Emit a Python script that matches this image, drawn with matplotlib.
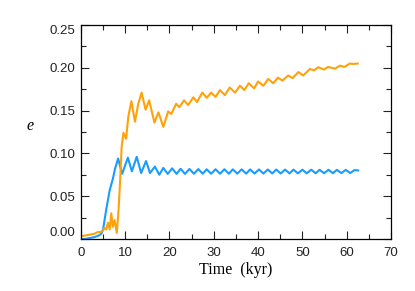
import numpy as np
import matplotlib.pyplot as plt
from matplotlib.ticker import MultipleLocator

# blue curve
t_blue = [0, 1, 2, 3, 4, 4.6, 5.0, 5.7, 6.5, 7.2, 7.7, 8.4, 9.3, 10.6, 11.5,
          12.6, 13.6, 14.7, 15.6, 16.7, 17.7, 18.6, 19.6, 20.6, 21.6, 22.5,
          23.5, 24.5, 25.5, 26.5, 27.5, 28.4, 29.4, 30.4, 31.4, 32.4, 33.4,
          34.3, 35.3, 36.3, 37.3, 38.2, 39.2, 40.2, 41.2, 42.2, 43.2, 44.1,
          45.1, 46.1, 47.1, 48.0, 49.0, 50.0, 51.0, 52.0, 53.0, 53.9, 54.9,
          55.9, 56.9, 57.8, 58.8, 59.8, 60.8, 61.8, 62.6]
e_blue = [0.000, 0.000, 0.001, 0.002, 0.004, 0.006, 0.011, 0.034, 0.057, 0.070,
          0.082, 0.094, 0.076, 0.095, 0.079, 0.096, 0.077, 0.091, 0.077, 0.0845,
          0.075, 0.083, 0.076, 0.0825, 0.076, 0.082, 0.076, 0.0818, 0.0762, 0.0816,
          0.0762, 0.0814, 0.0762, 0.0814, 0.0762, 0.0814, 0.0762, 0.0813, 0.0763,
          0.0813, 0.0763, 0.0812, 0.0764, 0.0812, 0.0764, 0.0811, 0.0765, 0.0811,
          0.0765, 0.0810, 0.0766, 0.0810, 0.0766, 0.0809, 0.0767, 0.0809, 0.0767,
          0.0808, 0.0768, 0.0808, 0.0768, 0.0807, 0.0769, 0.0807, 0.0770, 0.0805,
          0.0800]

# orange curve
t_orange = [0, 1, 2, 3, 3.8, 4.5, 5.0, 5.3, 5.7, 6.1, 6.5, 6.85, 7.2, 7.6, 8.1,
            8.5, 8.9, 9.2, 9.6, 10.2, 10.7, 11.4, 12.2, 12.95, 13.7, 14.6, 15.4,
            16.6, 17.5, 18.6, 19.7, 20.4, 21.5, 22.2, 23.3, 24.2, 25.4, 26.2,
            27.4, 28.4, 29.4, 30.4, 31.4, 32.5, 33.6, 34.8, 35.9, 36.9, 37.9,
            39.1, 40.0, 41.2, 42.3, 43.4, 44.5, 45.5, 46.8, 47.8, 49.1, 50.2,
            51.7, 52.6, 53.6, 54.9, 55.8, 57.4, 58.5, 59.5, 60.7, 61.5, 62.5]
e_orange = [0.003, 0.004, 0.005, 0.006, 0.008, 0.008, 0.010, 0.013, 0.011, 0.019,
            0.011, 0.030, 0.014, 0.022, 0.007, 0.034, 0.073, 0.108, 0.124, 0.117,
            0.143, 0.161, 0.137, 0.158, 0.171, 0.151, 0.162, 0.136, 0.148, 0.131,
            0.149, 0.146, 0.158, 0.154, 0.162, 0.1565, 0.1655, 0.160, 0.171, 0.165,
            0.171, 0.166, 0.174, 0.168, 0.177, 0.171, 0.179, 0.174, 0.182, 0.176,
            0.184, 0.179, 0.187, 0.182, 0.1885, 0.185, 0.191, 0.188, 0.195, 0.191,
            0.1986, 0.197, 0.2006, 0.198, 0.201, 0.199, 0.2025, 0.201, 0.205,
            0.2045, 0.205]

x_ticks = [0, 10, 20, 30, 40, 50, 60, 70]
y_ticks = [0.00, 0.05, 0.10, 0.15, 0.20, 0.25]

fig = plt.figure(figsize=(4.15, 2.91), dpi=100)
ax = fig.add_axes([0.195, 0.179, 0.747, 0.735])

ax.plot(t_blue, e_blue, color='#1a9cff', lw=1.5, solid_joinstyle='round')
ax.plot(t_orange, e_orange, color='#ffa20a', lw=1.5, solid_joinstyle='round')

ax.set_xlim(0, 70)
ax.set_ylim(0, 0.25)
ax.set_xticks(x_ticks)
ax.set_yticks(y_ticks)
ax.set_xticklabels([str(v) for v in x_ticks], family='Liberation Sans', fontsize=9.5)
ax.set_yticklabels(['%.2f' % v for v in y_ticks], family='Liberation Sans', fontsize=9.5)
ax.xaxis.set_minor_locator(MultipleLocator(5))
ax.yaxis.set_minor_locator(MultipleLocator(0.025))
ax.tick_params(which='both', direction='in', top=True, right=True, width=0.8, color='#222222', labelcolor='#222222')
ax.tick_params(which='major', length=6)
ax.tick_params(which='minor', length=3.5)
ax.tick_params(axis='x', pad=6)
ax.tick_params(axis='y', pad=4)
for s in ax.spines.values():
    s.set_linewidth(0.9)

labs = ax.get_yticklabels()
labs[0].set_va('bottom')
labs[-1].set_va('top')

ax.set_xlabel('Time  (kyr)', family='Liberation Serif', fontsize=11.5, labelpad=2)
ax.set_ylabel('e', family='Liberation Serif', style='italic', fontsize=11.5, rotation=0, labelpad=0)
ax.yaxis.set_label_coords(-0.165, 0.49)

fig.savefig('out.png', dpi=100)
